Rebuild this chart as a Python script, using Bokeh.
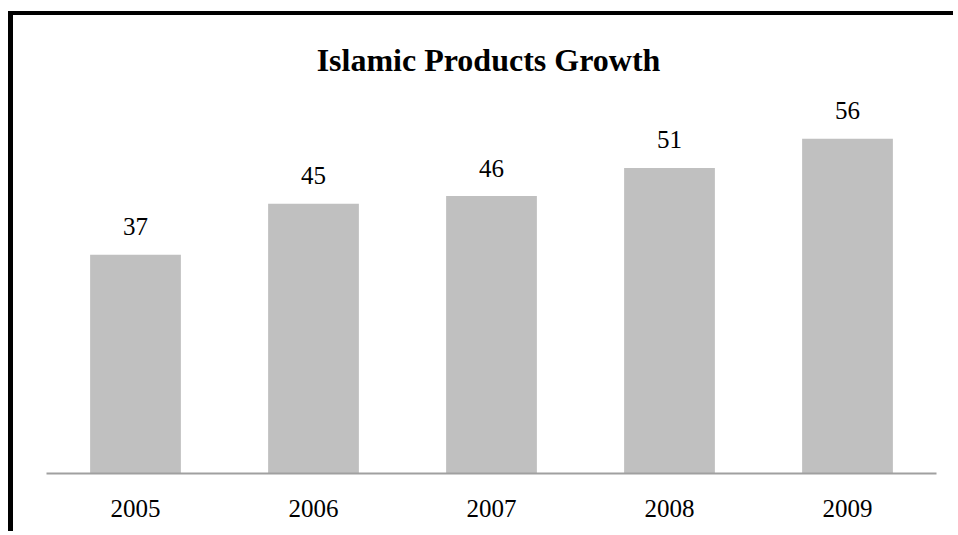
from bokeh.plotting import figure
from bokeh.models import FactorRange, Range1d, ColumnDataSource
from bokeh.core.properties import value
from bokeh.embed import file_html
from bokeh.resources import INLINE

years = ["2005", "2006", "2007", "2008", "2009"]
growth = [36.6, 45.1, 46.4, 51.1, 56.0]
labels = ["37", "45", "46", "51", "56"]
title_text = "Islamic Products Growth"

FONT = "Liberation Serif"

src = ColumnDataSource(dict(x=years, top=growth, label=labels))

p = figure(
    x_range=FactorRange(*years, range_padding=0),
    y_range=Range1d(0, 76.6),
    width=945, height=520,
    output_backend="svg", toolbar_location=None,
    min_border_left=33, min_border_right=22, min_border_top=0, min_border_bottom=62,
)
p.styles = {"border-top": "4px solid black", "border-left": "5px solid black",
            "margin-top": "11px", "margin-left": "8px"}
p.outline_line_color = None
p.background_fill_color = "white"
p.border_fill_color = "white"
p.xgrid.visible = False
p.ygrid.visible = False
p.yaxis.visible = False

p.vbar(x="x", top="top", width=0.51, source=src, fill_color="#c0c0c0", line_color=None)

p.text(x="x", y="top", text="label", source=src, text_align="center", text_baseline="alphabetic",
       y_offset=-28, text_font=value(FONT), text_font_size="25px", text_color="black")

p.text(x=["2007"], y=[67.3], text=[title_text], text_align="center", text_baseline="alphabetic",
       x_offset=-3, y_offset=-11, text_font=value(FONT), text_font_size="32px", text_font_style="bold",
       text_color="black")

ax = p.xaxis[0]
ax.axis_line_color = "#a0a0a0"
ax.axis_line_width = 2
ax.major_tick_line_color = None
ax.minor_tick_line_color = None
ax.major_tick_out = 0
ax.major_tick_in = 0
ax.major_label_standoff = 26
ax.major_label_text_font = FONT
ax.major_label_text_font_size = "25px"
ax.major_label_text_color = "black"

open("out.html", "w").write(file_html(p, INLINE))
